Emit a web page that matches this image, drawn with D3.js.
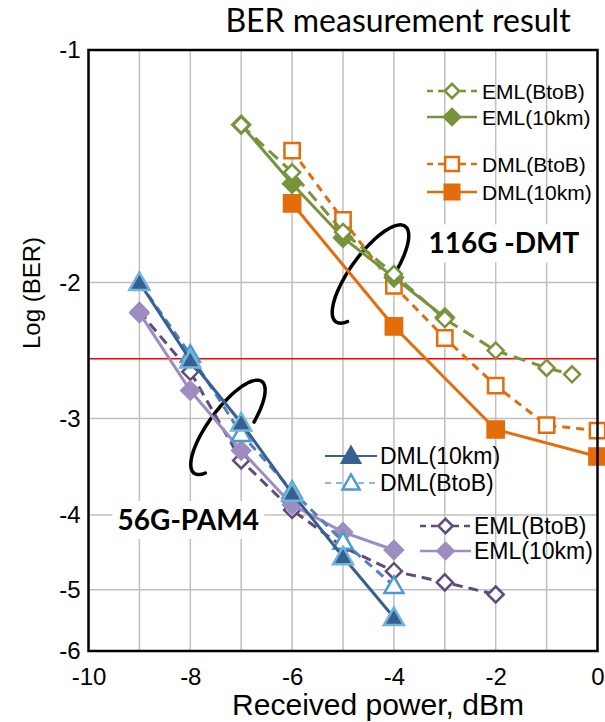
<!DOCTYPE html>
<html><head><meta charset="utf-8">
<script src="https://cdn.jsdelivr.net/npm/d3@7"></script>
<style>body{margin:0;background:#fff}</style>
</head><body><svg id="c" width="605" height="722"></svg>
<script>
// ---------- data ----------
const xTickValues = [-10, -8, -6, -4, -2, 0];
const yTickValues = [-1, -2, -3, -4, -5, -6];
const xGridValues = [-9, -8, -7, -6, -5, -4, -3, -2, -1];
const yGridValues = [-2, -3, -4, -5];
const fecLimit = -2.51;

// 116G-DMT
const p116EmlBtoB = [-7, -6, -5, -4, -3, -2, -1, -0.5];
const b116EmlBtoB = [-1.25, -1.44, -1.72, -1.95, -2.23, -2.45, -2.58, -2.63];
const p116Eml10 = [-7, -6, -5, -4, -3];
const b116Eml10 = [-1.25, -1.49, -1.75, -1.97, -2.22];
const p116DmlBtoB = [-6, -5, -4, -3, -2, -1, 0];
const b116DmlBtoB = [-1.35, -1.66, -2.02, -2.36, -2.72, -3.06, -3.11];
const p116Dml10 = [-6, -4, -2, 0];
const b116Dml10 = [-1.58, -2.28, -3.10, -3.36];

// 56G-PAM4
const p56Dml10 = [-9, -8, -7, -6, -5, -4];
const b56Dml10 = [-2.0, -2.52, -3.04, -3.75, -4.53, -5.43];
const p56DmlBtoB = [-9, -8, -7, -6, -5, -4];
const b56DmlBtoB = [-2.0, -2.48, -3.14, -3.72, -4.33, -4.94];
const p56EmlBtoB = [-9, -8, -7, -6, -5, -4, -3, -2];
const b56EmlBtoB = [-2.18, -2.61, -3.40, -3.94, -4.40, -4.73, -4.89, -5.07];
const p56Eml10 = [-9, -8, -7, -6, -5, -4];
const b56Eml10 = [-2.19, -2.76, -3.30, -3.88, -4.21, -4.44];

// ---------- setup ----------
const svg = d3.select("#c");
const L = 88.5, R = 597.5, T = 50, B = 651;
const x = d3.scaleLinear().domain([-10, 0]).range([L, R]);
const yMag = d3.scaleLog().domain([1, 6]).range([T, B]);
const y = v => yMag(-v);

const GREEN = "#77933C", ORANGE = "#E46C0A";
const DBLUE = "#376092", MBLUE = "#4F81BD";
const DPURP = "#604A7B", LPURP = "#9D8DC1";

const series = [
  {name:"EML(BtoB)", px:p56EmlBtoB, b:b56EmlBtoB, color:DPURP, dash:"10,6", mk:"diamond", fill:"#fff", ms:DPURP, size:16},
  {name:"EML(10km)", px:p56Eml10, b:b56Eml10, color:LPURP, dash:null, mk:"diamond", fill:LPURP, ms:LPURP, size:18},
  {name:"DML(BtoB)", px:p56DmlBtoB, b:b56DmlBtoB, color:MBLUE, dash:"9,6", mk:"triangle", fill:"#fff", ms:"#4A9BD0", size:19},
  {name:"DML(10km)", px:p56Dml10, b:b56Dml10, color:DBLUE, dash:null, mk:"triangle", fill:DBLUE, ms:"#6FB5D8", size:20},
  {name:"DML(BtoB)", px:p116DmlBtoB, b:b116DmlBtoB, color:ORANGE, dash:"8,6", mk:"square", fill:"#fff", ms:ORANGE, size:17},
  {name:"DML(10km)", px:p116Dml10, b:b116Dml10, color:ORANGE, dash:null, mk:"square", fill:ORANGE, ms:ORANGE, size:18},
  {name:"EML(10km)", px:p116Eml10, b:b116Eml10, color:GREEN, dash:null, mk:"diamond", fill:GREEN, ms:GREEN, size:18},
  {name:"EML(BtoB)", px:p116EmlBtoB, b:b116EmlBtoB, color:GREEN, dash:"12,7", mk:"diamond", fill:"#fff", ms:GREEN, size:16}
];

function markerPath(type, s) {
  const h = s / 2;
  if (type === "diamond") return `M0,${-h}L${h},0L0,${h}L${-h},0Z`;
  if (type === "square") { const q = h * 0.9; return `M${-q},${-q}H${q}V${q}H${-q}Z`; }
  if (type === "triangle") return `M0,${-h}L${h},${h*0.75}L${-h},${h*0.75}Z`;
}

// ---------- title ----------
svg.append("text").attr("x", 398).attr("y", 32).attr("text-anchor", "middle")
  .attr("font-family", "Lato, 'Open Sans', sans-serif").attr("font-size", 32).attr("fill", "#000")
  .text("BER measurement result");

// ---------- grid ----------
const grid = svg.append("g");
grid.selectAll("line.v").data(xGridValues).join("line")
  .attr("x1", d => x(d)).attr("x2", d => x(d)).attr("y1", T).attr("y2", B)
  .attr("stroke", "#C0C0C0").attr("stroke-width", 1.5);
grid.selectAll("line.h").data(yGridValues).join("line")
  .attr("y1", d => y(d)).attr("y2", d => y(d)).attr("x1", L).attr("x2", R)
  .attr("stroke", "#C0C0C0").attr("stroke-width", 1.5);

// FEC limit
svg.append("line").attr("x1", L).attr("x2", R).attr("y1", y(fecLimit)).attr("y2", y(fecLimit))
  .attr("stroke", "#FF0000").attr("stroke-width", 1.5);

// ---------- axes ----------
const fontAx = "'Liberation Sans', Arial, sans-serif";
const xAxis = d3.axisBottom(x).tickValues(xTickValues).tickSize(0).tickPadding(17).tickFormat(d => String(d));
const gx = svg.append("g").attr("transform", `translate(0,${B})`).call(xAxis);
gx.select(".domain").remove();
gx.selectAll("text").attr("font-family", fontAx).attr("font-size", 24).attr("fill", "#000");

const yAxis = d3.axisLeft(yMag).tickValues(yTickValues.map(v => -v)).tickSize(0).tickPadding(8).tickFormat(d => String(-d));
const gy = svg.append("g").attr("transform", `translate(${L},0)`).call(yAxis);
gy.select(".domain").remove();
gy.selectAll("text").attr("font-family", fontAx).attr("font-size", 24).attr("fill", "#000");

svg.append("text").attr("x", 378).attr("y", 715).attr("text-anchor", "middle")
  .attr("font-family", fontAx).attr("font-size", 30).attr("fill", "#000").text("Received power, dBm");
svg.append("text").attr("transform", "translate(40,293) rotate(-90)").attr("text-anchor", "middle")
  .attr("font-family", fontAx).attr("font-size", 24).attr("fill", "#000").text("Log (BER)");

// ---------- labels with white boxes ----------
const labels = [
  {text: "116G -DMT", px: -1.84, b: -1.78, w: 154},
  {text: "56G-PAM4", px: -8.04, b: -4.06, w: 152}
];
labels.forEach(l => {
  const cx = x(l.px), cy = y(l.b);
  svg.append("rect").attr("x", cx - l.w / 2).attr("y", cy - 19).attr("width", l.w).attr("height", 38).attr("fill", "#fff");
  svg.append("text").attr("x", cx).attr("y", cy + 10).attr("text-anchor", "middle")
    .attr("font-family", "Lato, 'Open Sans', sans-serif").attr("font-weight", "bold").attr("font-size", 28)
    .attr("fill", "#000").text(l.text);
});

// ---------- ellipse annotations ----------
const ellipses = [
  {px: -4.46, b: -1.95, a: 59, r: 20, ang: -54, t0: 2.65, t1: 7.56},
  {px: -7.26, b: -3.08, a: 57, r: 19, ang: -53.5, t0: 2.65, t1: 7.5}
];
ellipses.forEach(e => {
  const cx = x(e.px), cy = y(e.b), th = e.ang * Math.PI / 180;
  const ux = Math.cos(th), uy = Math.sin(th), vx = -uy, vy = ux;
  const pts = d3.range(0, 101).map(i => {
    const t = e.t0 + (e.t1 - e.t0) * i / 100;
    const ca = e.a * Math.cos(t), sb = e.r * Math.sin(t);
    return [cx + ca * ux + sb * vx, cy + ca * uy + sb * vy];
  });
  svg.append("path").attr("d", d3.line().curve(d3.curveBasis)(pts))
    .attr("fill", "none").attr("stroke", "#000").attr("stroke-width", 3.5).attr("stroke-linecap", "round");
});

// ---------- series ----------
const line = d3.line().x(d => x(d[0])).y(d => y(d[1]));
series.forEach(s => {
  const pts = s.px.map((p, i) => [p, s.b[i]]);
  svg.append("path").attr("d", line(pts)).attr("fill", "none").attr("stroke", s.color)
    .attr("stroke-width", 3).attr("stroke-dasharray", s.dash);
  svg.append("g").selectAll("path").data(pts).join("path")
    .attr("transform", d => `translate(${x(d[0])},${y(d[1])})`)
    .attr("d", markerPath(s.mk, s.size)).attr("fill", s.fill).attr("stroke", s.ms).attr("stroke-width", 2.5);
});

// ---------- frame ----------
svg.append("rect").attr("x", L).attr("y", T).attr("width", R - L).attr("height", B - T)
  .attr("fill", "none").attr("stroke", "#000").attr("stroke-width", 2.5);

// ---------- legends ----------
const legends = [
  {x0: 427, x1: 477, tx: 482, fs: 21, items: [[7, 91], [6, 117], [4, 164], [5, 192]]},
  {x0: 325, x1: 377, tx: 380, fs: 23, items: [[3, 456], [2, 483]]},
  {x0: 420, x1: 471, tx: 474, fs: 23, items: [[0, 526], [1, 551]]}
];
legends.forEach(lg => {
  lg.items.forEach(([si, ly]) => {
    const s = series[si];
    const g = svg.append("g");
    g.append("line").attr("x1", lg.x0).attr("x2", lg.x1).attr("y1", ly).attr("y2", ly)
      .attr("stroke", si === 2 ? "#95B3D7" : s.color)
      .attr("stroke-width", si === 2 || si === 3 ? 2 : 2.5).attr("stroke-dasharray", s.dash ? "6,5" : null);
    g.append("path").attr("transform", `translate(${(lg.x0 + lg.x1) / 2},${ly})`)
      .attr("d", markerPath(s.mk, s.size * 0.9)).attr("fill", s.fill)
      .attr("stroke", si === 3 ? DBLUE : s.ms).attr("stroke-width", 2.5);
    g.append("text").attr("x", lg.tx).attr("y", ly + lg.fs * 0.36).attr("font-family", fontAx)
      .attr("font-size", lg.fs).attr("fill", "#000").text(s.name);
  });
});
</script></body></html>
